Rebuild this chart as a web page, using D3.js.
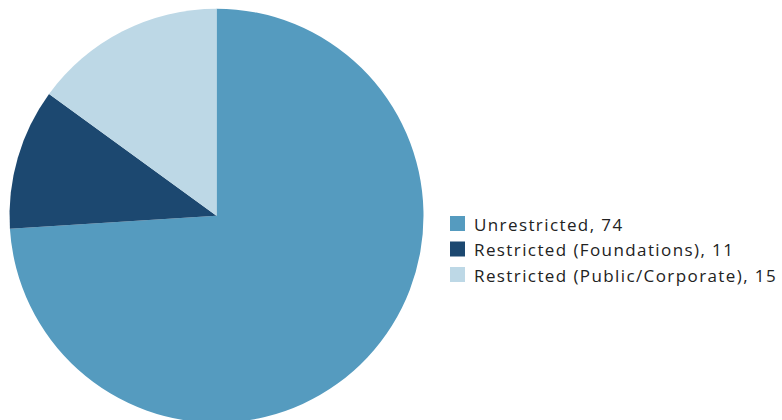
<!DOCTYPE html>
<html>
<head>
<meta charset="utf-8">
<script src="https://cdn.jsdelivr.net/npm/d3@7"></script>
<style>
html,body{margin:0;padding:0;background:#fff;}
svg{display:block;}
</style>
</head>
<body>
<svg id="chart" width="782" height="420"></svg>
<script>
const categories = ["Unrestricted", "Restricted (Foundations)", "Restricted (Public/Corporate)"];
const values = [74, 11, 15];
const colors = ["#559bbf", "#1c4870", "#bdd8e6"];

const svg = d3.select("#chart");
const cx = 216.5, cy = 215.7, r = 207;

const data = categories.map((c, i) => ({ name: c, value: values[i], color: colors[i] }));
const pie = d3.pie().value(d => d.value).sort(null);
const arc = d3.arc().innerRadius(0).outerRadius(r);

svg.append("g").attr("transform", `translate(${cx},${cy})`)
  .selectAll("path").data(pie(data)).join("path")
  .attr("d", arc).attr("fill", d => d.data.color);

const legend = svg.append("g").attr("transform", "translate(450,216)");
const rowY = d3.scalePoint().domain(categories).range([0, 51]);
const rows = legend.selectAll("g").data(data).join("g")
  .attr("transform", d => `translate(0,${rowY(d.name)})`);
rows.append("rect").attr("width", 15).attr("height", 15).attr("fill", d => d.color);
const texts = rows.append("text").attr("x", 24).attr("y", 14.5)
  .attr("font-family", "'Open Sans', sans-serif").attr("font-size", 17).attr("fill", "#222")
  .style("font-variant-ligatures", "none")
  .text(d => `${d.name}, ${d.value}`);

// widen letter spacing so the longest label spans the same width as the reference
const longest = texts.nodes().reduce((a, n) => n.getComputedTextLength() > a.getComputedTextLength() ? n : a);
const len = longest.getComputedTextLength();
const n = longest.textContent.length;
const ls = Math.max(0, (303 - len) / n);
texts.attr("letter-spacing", ls);
</script>
</body>
</html>
